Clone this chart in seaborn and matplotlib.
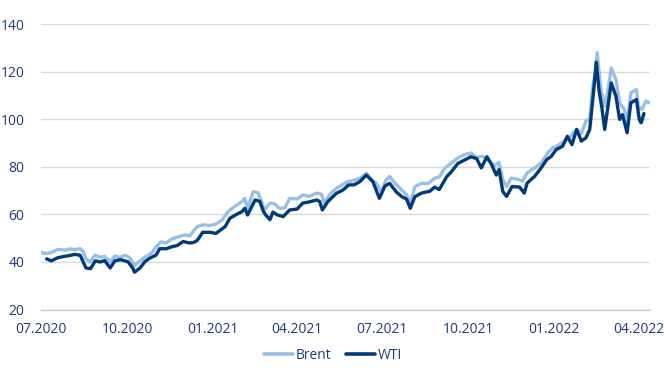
import pandas as pd
import numpy as np
import matplotlib
matplotlib.use("Agg")
import matplotlib.pyplot as plt
import matplotlib.dates as mdates
from matplotlib.lines import Line2D
import seaborn as sns

brent_dates = [
    "2020-07-01", "2020-07-05", "2020-07-11", "2020-07-19", "2020-07-27", "2020-08-01",
    "2020-08-06", "2020-08-12", "2020-08-15", "2020-08-18", "2020-08-22", "2020-08-28",
    "2020-09-02", "2020-09-07", "2020-09-13", "2020-09-18", "2020-09-23", "2020-09-29",
    "2020-10-04", "2020-10-09", "2020-10-15", "2020-10-20", "2020-10-27", "2020-11-01",
    "2020-11-06", "2020-11-12", "2020-11-17", "2020-11-24", "2020-12-02", "2020-12-07",
    "2020-12-15", "2020-12-21", "2020-12-29", "2021-01-04", "2021-01-11", "2021-01-17",
    "2021-01-24", "2021-02-01", "2021-02-04", "2021-02-07", "2021-02-13", "2021-02-18",
    "2021-02-22", "2021-02-25", "2021-03-03", "2021-03-08", "2021-03-13", "2021-03-19",
    "2021-03-24", "2021-04-01", "2021-04-07", "2021-04-14", "2021-04-22", "2021-04-27",
    "2021-04-30", "2021-05-06", "2021-05-13", "2021-05-19", "2021-05-25", "2021-05-30",
    "2021-06-07", "2021-06-14", "2021-06-20", "2021-06-25", "2021-06-30", "2021-07-05",
    "2021-07-09", "2021-07-14", "2021-07-20", "2021-07-27", "2021-07-31", "2021-08-05",
    "2021-08-12", "2021-08-19", "2021-08-26", "2021-08-31", "2021-09-06", "2021-09-13",
    "2021-09-20", "2021-09-27", "2021-10-04", "2021-10-10", "2021-10-16", "2021-10-24",
    "2021-10-29", "2021-11-03", "2021-11-07", "2021-11-11", "2021-11-16", "2021-11-23",
    "2021-11-28", "2021-12-03", "2021-12-11", "2021-12-18", "2021-12-25", "2021-12-30",
    "2022-01-04", "2022-01-12", "2022-01-17", "2022-01-25", "2022-01-30", "2022-02-04",
    "2022-02-08", "2022-02-11", "2022-02-14", "2022-02-16", "2022-02-18", "2022-02-20",
    "2022-02-24", "2022-02-27", "2022-03-03", "2022-03-08", "2022-03-12", "2022-03-17",
    "2022-03-20", "2022-03-24", "2022-03-30", "2022-04-01", "2022-04-05", "2022-04-09",
    "2022-04-13",
]
brent_values = [
    44.0, 43.6, 43.8, 45.3, 45.0, 45.5,
    45.2, 45.6, 44.5, 41.5, 40.0, 42.9,
    42.0, 42.4, 40.1, 42.5, 42.0, 42.8,
    41.8, 38.5, 40.5, 42.0, 43.6, 46.3,
    48.4, 48.0, 49.5, 50.5, 51.4, 51.0,
    54.9, 55.6, 55.4, 55.9, 57.8, 61.2,
    63.3, 65.4, 66.8, 62.6, 69.6, 69.2,
    65.4, 62.0, 64.8, 64.5, 62.6, 62.8,
    66.8, 66.5, 68.2, 67.6, 69.0, 68.5,
    64.8, 68.5, 71.0, 72.4, 73.8, 74.2,
    75.2, 77.3, 74.5, 73.0, 69.6, 74.5,
    76.0, 73.5, 71.0, 68.3, 64.8, 71.7,
    73.1, 73.0, 75.2, 75.8, 79.5, 81.7,
    83.8, 85.2, 85.9, 84.0, 84.5, 82.5,
    80.5, 82.0, 74.6, 71.8, 75.3, 74.8,
    74.0, 77.5, 79.6, 81.7, 85.9, 88.0,
    88.8, 90.9, 92.3, 95.8, 94.0, 99.4,
    100.0, 113.3, 120.0, 128.1, 120.0, 112.6,
    105.6, 111.0, 121.7, 116.8, 107.0, 104.2,
    98.6, 111.2, 112.6, 105.5, 104.2, 107.7,
    107.0,
]

wti_dates = [
    "2020-07-07", "2020-07-12", "2020-07-19", "2020-07-25", "2020-07-30", "2020-08-06",
    "2020-08-12", "2020-08-15", "2020-08-18", "2020-08-23", "2020-08-28", "2020-09-02",
    "2020-09-07", "2020-09-13", "2020-09-18", "2020-09-24", "2020-10-02", "2020-10-07",
    "2020-10-09", "2020-10-15", "2020-10-20", "2020-10-25", "2020-11-01", "2020-11-05",
    "2020-11-12", "2020-11-17", "2020-11-24", "2020-11-30", "2020-12-07", "2020-12-11",
    "2020-12-15", "2020-12-21", "2020-12-29", "2021-01-04", "2021-01-14", "2021-01-19",
    "2021-01-26", "2021-02-01", "2021-02-04", "2021-02-07", "2021-02-15", "2021-02-20",
    "2021-02-24", "2021-02-27", "2021-03-03", "2021-03-06", "2021-03-11", "2021-03-17",
    "2021-03-24", "2021-04-01", "2021-04-07", "2021-04-14", "2021-04-22", "2021-04-25",
    "2021-04-28", "2021-05-04", "2021-05-13", "2021-05-20", "2021-05-26", "2021-06-01",
    "2021-06-07", "2021-06-14", "2021-06-21", "2021-06-28", "2021-07-04", "2021-07-09",
    "2021-07-16", "2021-07-22", "2021-07-27", "2021-07-31", "2021-08-05", "2021-08-12",
    "2021-08-21", "2021-08-26", "2021-08-31", "2021-09-08", "2021-09-13", "2021-09-20",
    "2021-09-27", "2021-10-04", "2021-10-10", "2021-10-15", "2021-10-21", "2021-10-26",
    "2021-10-31", "2021-11-03", "2021-11-07", "2021-11-11", "2021-11-17", "2021-11-25",
    "2021-11-30", "2021-12-03", "2021-12-11", "2021-12-18", "2021-12-24", "2021-12-29",
    "2022-01-03", "2022-01-10", "2022-01-15", "2022-01-20", "2022-01-25", "2022-01-30",
    "2022-02-04", "2022-02-08", "2022-02-12", "2022-02-15", "2022-02-18", "2022-02-21",
    "2022-02-24", "2022-02-27", "2022-03-03", "2022-03-08", "2022-03-12", "2022-03-15",
    "2022-03-20", "2022-03-24", "2022-03-30", "2022-04-02", "2022-04-04", "2022-04-07",
]
wti_values = [
    41.3, 40.5, 41.8, 42.3, 42.6, 43.2,
    42.8, 40.1, 37.5, 37.2, 40.5, 40.0,
    40.6, 37.5, 40.5, 41.0, 40.1, 37.5,
    35.7, 37.5, 40.1, 41.5, 42.9, 45.6,
    45.6, 46.3, 47.0, 48.6, 48.0, 48.2,
    49.0, 52.5, 52.5, 52.0, 54.9, 58.4,
    60.0, 61.2, 62.6, 59.8, 66.1, 65.5,
    61.2, 59.5, 57.8, 61.0, 59.8, 59.1,
    61.9, 62.3, 64.8, 65.3, 66.1, 65.5,
    61.9, 65.5, 68.9, 70.3, 72.4, 72.5,
    73.8, 76.6, 73.8, 66.8, 72.0, 73.1,
    69.5, 67.5, 66.5, 62.6, 67.5, 69.0,
    69.8, 71.5, 70.5, 75.9, 78.0, 81.5,
    82.9, 84.3, 83.5, 79.6, 84.3, 81.0,
    76.6, 78.9, 69.7, 67.6, 71.8, 71.5,
    69.0, 73.2, 76.0, 79.6, 83.1, 84.5,
    87.3, 88.7, 92.9, 89.4, 95.8, 90.9,
    92.3, 95.8, 111.2, 124.1, 112.0, 105.0,
    95.8, 104.0, 115.4, 109.8, 100.0, 102.0,
    94.4, 107.0, 108.4, 100.0, 98.6, 102.5,
]

series_names = ["Brent", "WTI"]
series_colors = ["#99bfe4", "#003a78"]
y_ticks = [20, 40, 60, 80, 100, 120, 140]
x_tick_labels = ["07.2020", "10.2020", "01.2021", "04.2021", "07.2021",
                 "10.2021", "01.2022", "04.2022"]

df = pd.concat([
    pd.DataFrame({"date": pd.to_datetime(brent_dates), "value": brent_values, "series": "Brent"}),
    pd.DataFrame({"date": pd.to_datetime(wti_dates), "value": wti_values, "series": "WTI"}),
], ignore_index=True)

sns.set_style("white")
plt.rcParams["font.family"] = ["Open Sans", "DejaVu Sans"]
text_color = "#1e3a78"

fig = plt.figure(figsize=(6.66, 3.70), dpi=100)
ax = fig.add_axes([0.0616, 0.1635, 0.9144, 0.7705])

sns.lineplot(data=df, x="date", y="value", hue="series",
             hue_order=series_names, palette=dict(zip(series_names, series_colors)),
             linewidth=2.4, ax=ax, legend=False, estimator=None)

ax.set_ylim(20, 140)
ax.set_yticks(y_ticks)
ax.set_xlim(pd.Timestamp("2020-07-01"), pd.Timestamp("2022-04-13 12:00"))
tick_dates = pd.to_datetime(["01." + s for s in x_tick_labels], format="%d.%m.%Y")
ax.set_xticks(tick_dates)
ax.set_xticklabels(x_tick_labels)

ax.grid(axis="y", color="#d9d9d9", linewidth=1.0)
ax.grid(axis="x", visible=False)
ax.set_axisbelow(True)
for s in ["top", "right", "left"]:
    ax.spines[s].set_visible(False)
ax.spines["bottom"].set_color("#c9c9e4")
ax.spines["bottom"].set_linewidth(1.0)
ax.tick_params(axis="both", length=0, colors=text_color, labelsize=10)
ax.tick_params(axis="y", pad=12)
ax.tick_params(axis="x", pad=9)
ax.set_xlabel("")
ax.set_ylabel("")

handles = [Line2D([0], [0], color=c, linewidth=2.6) for c in series_colors]
fig.legend(handles, series_names, loc="center", bbox_to_anchor=(0.5, 0.04),
           ncol=2, frameon=False, fontsize=10, handlelength=2.1,
           handletextpad=0.2, columnspacing=1.0, labelcolor=text_color)

fig.savefig("out.png", dpi=100)
